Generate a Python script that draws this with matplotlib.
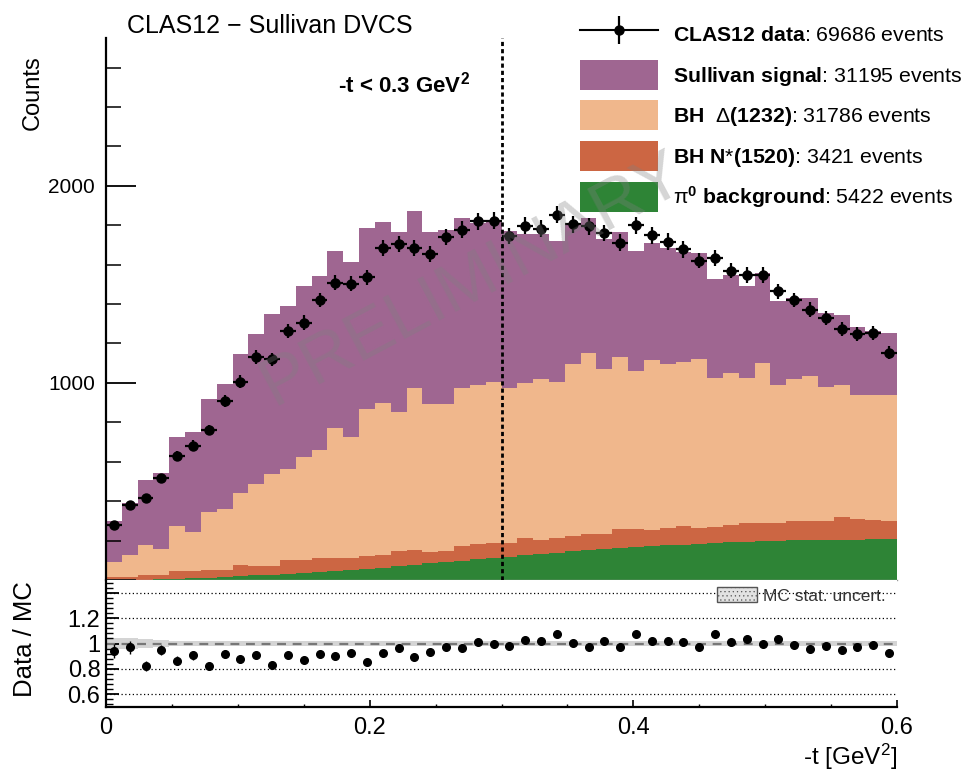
import numpy as np
import matplotlib
matplotlib.use("Agg")
import matplotlib.pyplot as plt
from matplotlib.patches import Patch
from matplotlib.lines import Line2D
from matplotlib.legend_handler import HandlerTuple
from matplotlib.ticker import FixedLocator, MultipleLocator

plt.rcParams["font.family"] = ["Liberation Sans", "DejaVu Sans"]
plt.rcParams["mathtext.fontset"] = "custom"
plt.rcParams["mathtext.rm"] = "Liberation Sans"
plt.rcParams["mathtext.it"] = "Liberation Sans:italic"
plt.rcParams["mathtext.bf"] = "Liberation Sans:bold"
plt.rcParams["mathtext.default"] = "regular"
plt.rcParams["hatch.linewidth"] = 0.4

# ── 1. DATA (50 bins in -t from 0 to 0.6) ───────────────────────────────────
t_min, t_max, n_bins = 0.0, 0.6, 50

data_counts = [279, 381, 418, 516, 631, 682, 761, 909, 1007, 1132,
               1120, 1264, 1306, 1421, 1509, 1503, 1536, 1684, 1706, 1684,
               1655, 1739, 1777, 1819, 1822, 1745, 1797, 1783, 1853, 1805,
               1794, 1761, 1712, 1800, 1748, 1717, 1677, 1621, 1633, 1570,
               1548, 1548, 1464, 1421, 1371, 1328, 1272, 1249, 1255, 1154]

sullivan = [204, 263, 330, 385, 453, 510, 573, 634, 707, 757,
            812, 829, 869, 883, 897, 892, 922, 914, 914, 894,
            875, 885, 862, 822, 815, 799, 755, 735, 711, 710,
            684, 658, 637, 612, 595, 586, 556, 539, 502, 501,
            466, 456, 426, 412, 395, 375, 356, 347, 326, 313]

bh_delta = [79, 113, 153, 132, 227, 195, 296, 306, 366, 417,
            466, 462, 524, 550, 659, 611, 744, 773, 707, 826,
            749, 747, 800, 807, 821, 787, 790, 817, 795, 873,
            918, 836, 873, 801, 863, 834, 834, 857, 757, 770,
            733, 810, 702, 719, 735, 680, 672, 631, 634, 638]

bh_nstar = [14, 13, 23, 21, 41, 38, 39, 38, 55, 49,
            43, 69, 64, 70, 66, 62, 65, 64, 77, 73,
            60, 55, 75, 78, 74, 68, 87, 71, 73, 77,
            81, 78, 95, 90, 82, 86, 94, 81, 79, 87,
            96, 93, 89, 100, 99, 98, 114, 103, 99, 94]

pi0_bkg = [0, 1, 2, 4, 6, 9, 12, 15, 19, 23,
           27, 31, 35, 40, 45, 51, 57, 63, 70, 77,
           84, 91, 98, 105, 112, 118, 125, 132, 139, 146,
           152, 157, 162, 167, 172, 176, 180, 184, 188, 192,
           195, 197, 199, 201, 202, 203, 204, 205, 206, 207]

ratio = [0.94, 0.97, 0.825, 0.95, 0.864, 0.908, 0.825, 0.916, 0.877, 0.906,
         0.827, 0.908, 0.869, 0.919, 0.903, 0.927, 0.854, 0.924, 0.963, 0.893,
         0.935, 0.976, 0.966, 1.008, 1.0, 0.984, 1.024, 1.018, 1.078, 1.003,
         0.974, 1.018, 0.969, 1.076, 1.021, 1.021, 1.008, 0.976, 1.071, 1.013,
         1.039, 0.995, 1.034, 0.992, 0.958, 0.979, 0.945, 0.971, 0.992, 0.922]

mc_stat = [0.045, 0.045, 0.035, 0.025, 0.022, 0.022, 0.02, 0.02, 0.02, 0.02,
           0.02, 0.02, 0.02, 0.02, 0.02, 0.02, 0.02, 0.02, 0.02, 0.02,
           0.02, 0.02, 0.02, 0.02, 0.02, 0.02, 0.02, 0.02, 0.02, 0.02,
           0.02, 0.02, 0.02, 0.02, 0.02, 0.02, 0.02, 0.02, 0.02, 0.02,
           0.02, 0.02, 0.02, 0.02, 0.02, 0.02, 0.02, 0.02, 0.02, 0.02]

labels = [r"$\mathbf{CLAS12\ data}$: 69686 events",
          r"$\mathbf{Sullivan\ signal}$: 31195 events",
          r"$\mathbf{BH}\ \ \Delta\mathbf{(1232)}$: 31786 events",
          r"$\mathbf{BH\ N}$*$\mathbf{(1520)}$: 3421 events",
          r"$\pi^{\mathbf{0}}\ \mathbf{background}$: 5422 events"]

colors = {"sullivan": "#9f6691", "delta": "#f0b78c",
          "nstar": "#cc6643", "pi0": "#2e8436"}

# ── 2. FIGURE LAYOUT ────────────────────────────────────────────────────────
W, H = 966, 774
fig = plt.figure(figsize=(W / 100, H / 100), dpi=100)
x0, x1 = 106 / W, 897 / W
ax = fig.add_axes([x0, 1 - 580 / H, x1 - x0, (580 - 38) / H])
axr = fig.add_axes([x0, 1 - 707 / H, x1 - x0, (707 - 580) / H])

edges = np.linspace(t_min, t_max, n_bins + 1)
centers = 0.5 * (edges[1:] + edges[:-1])
half = 0.5 * (edges[1] - edges[0])
data = np.array(data_counts, dtype=float)

# ── 3. STACKED MC ───────────────────────────────────────────────────────────
base = np.zeros(n_bins)
for vals, key in [(pi0_bkg, "pi0"), (bh_nstar, "nstar"),
                  (bh_delta, "delta"), (sullivan, "sullivan")]:
    top = base + np.array(vals, dtype=float)
    ax.stairs(top, edges, baseline=base, fill=True, color=colors[key],
              lw=0, zorder=1)
    base = top

ax.errorbar(centers, data, xerr=half, yerr=np.sqrt(data), fmt="o", ms=6.5,
            color="k", elinewidth=1.6, capsize=0, zorder=5)

ax.axvline(0.3, color="k", lw=2, ls=(0, (1.5, 1.1)), zorder=6)

ax.text(0.463, 0.553, "PRELIMINARY", transform=ax.transAxes, rotation=28,
        rotation_mode="anchor", ha="center", va="center", fontsize=50,
        color="#808080", alpha=0.33, zorder=10)

ax.set_xlim(t_min, t_max)
ax.set_ylim(0, 2750)
ax.set_xticks([])
ax.yaxis.set_major_locator(FixedLocator([0, 1000, 2000]))
ax.set_yticklabels(["", "1000", "2000"])
ax.yaxis.set_minor_locator(MultipleLocator(200))
ax.tick_params(axis="y", which="major", direction="in", length=21.6,
               width=1.3, labelsize=15, pad=8)
ax.tick_params(axis="y", which="minor", direction="in", length=10.8,
               width=1.1)
for s in ["top", "right"]:
    ax.spines[s].set_visible(False)
ax.spines["left"].set_linewidth(1.6)
ax.spines["bottom"].set_color("#999999")
ax.spines["bottom"].set_linewidth(1.0)

# legend
data_handle = (Line2D([], [], color="k", lw=1.5),
               Line2D([], [], marker="o", ms=6.5, color="k", ls="none"),
               Line2D([], [], marker="|", ms=20, mew=1.6, color="k", ls="none"))
handles = [data_handle,
           Patch(facecolor=colors["sullivan"], lw=0),
           Patch(facecolor=colors["delta"], lw=0),
           Patch(facecolor=colors["nstar"], lw=0),
           Patch(facecolor=colors["pi0"], lw=0)]
ax.legend(handles, labels, handler_map={tuple: HandlerTuple(ndivide=1)},
          loc="upper left", bbox_to_anchor=(580 / W, 1 - 19 / H),
          bbox_transform=fig.transFigure, frameon=False, fontsize=15.3,
          numpoints=1, handlelength=3.65, handleheight=1.8,
          labelspacing=0.5, handletextpad=0.72, borderpad=0,
          borderaxespad=0)

# ── 4. RATIO PANEL ──────────────────────────────────────────────────────────
unc = np.array(mc_stat)
axr.stairs(1 + unc, edges, baseline=1 - unc, fill=True, color="#d4d4d4",
           lw=0, zorder=1)
for v in [0.6, 0.8, 1.2, 1.4]:
    axr.axhline(v, color="k", lw=0.9, ls=(0, (1, 2)), zorder=2)
axr.axhline(1.0, color="#777777", lw=1.6, ls=(0, (4, 3)), zorder=2)

r = np.array(ratio)
axr.errorbar(centers, r, yerr=r / np.sqrt(data), fmt="o", ms=5.5, color="k",
             elinewidth=1, capsize=0, zorder=5)

axr.set_xlim(t_min, t_max)
axr.set_ylim(0.5, 1.5)
axr.yaxis.set_major_locator(FixedLocator([0.6, 0.8, 1.0, 1.2, 1.4]))
axr.set_yticklabels(["0.6", "0.8", "1", "1.2", ""])
axr.yaxis.set_minor_locator(MultipleLocator(0.04))
axr.xaxis.set_major_locator(FixedLocator([0, 0.2, 0.4, 0.6]))
axr.set_xticklabels(["0", "0.2", "0.4", "0.6"])
axr.xaxis.set_minor_locator(MultipleLocator(0.05))
axr.tick_params(axis="y", which="major", direction="in", length=9.5,
                width=1.3, labelsize=17, pad=4)
axr.tick_params(axis="y", which="minor", direction="in", length=5,
                width=1.0)
axr.tick_params(axis="x", which="major", direction="in", length=5,
                width=1.2, labelsize=17, pad=7)
axr.tick_params(axis="x", which="minor", direction="in", length=2.5,
                width=1.0)
for s in ["top", "right"]:
    axr.spines[s].set_visible(False)
axr.spines["left"].set_linewidth(1.6)
axr.spines["bottom"].set_linewidth(1.6)

axr.legend([Patch(facecolor="#e2e2e2", edgecolor="#555555", hatch="....",
                  lw=1.0)], ["MC stat. uncert."],
           loc="upper left", bbox_to_anchor=(717 / W, 1 - 587 / H),
           bbox_transform=fig.transFigure, frameon=False, fontsize=12.5,
           handlelength=2.3, handleheight=0.98, handletextpad=0.33,
           borderpad=0, borderaxespad=0, labelcolor="#333333")

# ── 5. TEXT ─────────────────────────────────────────────────────────────────
fig.text(127 / W, 1 - 33 / H, "CLAS12 \u2212 Sullivan DVCS", fontsize=18,
         va="baseline", ha="left")
fig.text(338 / W, 1 - 93 / H, r"-t < 0.3 GeV$^{\mathbf{2}}$", fontsize=16,
         fontweight="bold", va="baseline", ha="left")
fig.text(33 / W, 1 - 55 / H, "Counts", fontsize=17, rotation=90,
         ha="center", va="top")
fig.text(25 / W, 1 - 639 / H, "Data / MC", fontsize=18.5, rotation=90,
         ha="center", va="center")
fig.text(897 / W, 1 - 765 / H, r"-t [GeV$^{2}$]", fontsize=17.5,
         ha="right", va="baseline")

fig.savefig("out.png", dpi=100)
